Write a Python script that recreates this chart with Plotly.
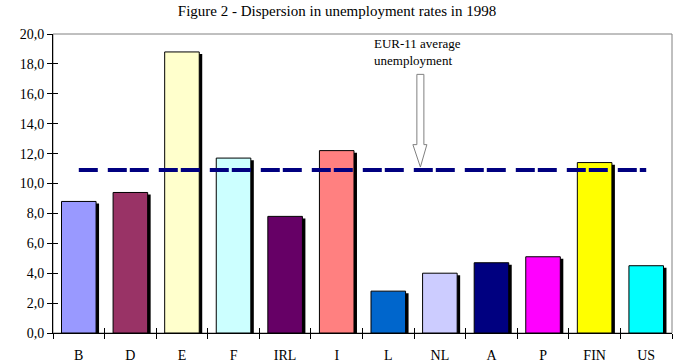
import plotly.graph_objects as go

countries = ["B", "D", "E", "F", "IRL", "I", "L", "NL", "A", "P", "FIN", "US"]
rates = [8.8, 9.4, 18.8, 11.7, 7.8, 12.2, 2.8, 4.0, 4.7, 5.1, 11.4, 4.5]
bar_colors = ["#9999FF", "#993366", "#FFFFCC", "#CCFFFF", "#660066", "#FF8080",
              "#0066CC", "#CCCCFF", "#000080", "#FF00FF", "#FFFF00", "#00FFFF"]
eur11_average = 10.9
y_ticks = [0, 2, 4, 6, 8, 10, 12, 14, 16, 18, 20]

BAR_W = 0.67
BAR_OFF = -0.335
SHADOW_DX = 0.058
SHADOW_DY = 0.14

fig = go.Figure()

# shadows
fig.add_trace(go.Bar(
    x=countries, y=[v - SHADOW_DY for v in rates],
    width=BAR_W, offset=BAR_OFF + SHADOW_DX,
    marker=dict(color="black", line=dict(width=0)),
    hoverinfo="skip", showlegend=False,
))
# bars
fig.add_trace(go.Bar(
    x=countries, y=rates, width=BAR_W, offset=BAR_OFF,
    marker=dict(color=bar_colors, line=dict(color="black", width=1)),
    showlegend=False,
))
# average line
fig.add_trace(go.Scatter(
    x=countries, y=[eur11_average] * len(countries), mode="lines",
    line=dict(color="#000080", width=4, dash="19px,10px,19px,3px"),
    showlegend=False,
))
# invisible carrier for the inner tick axes
fig.add_trace(go.Scatter(
    x=countries, y=rates, mode="markers", marker=dict(opacity=0),
    xaxis="x2", yaxis="y2", hoverinfo="skip", showlegend=False,
))

serif = "Liberation Serif, Times New Roman, serif"

fig.update_layout(
    width=693, height=363,
    margin=dict(l=53, r=21, t=34, b=30, autoexpand=False),
    paper_bgcolor="white", plot_bgcolor="white",
    barmode="overlay",
    separators=",.",
    font=dict(family=serif, size=14, color="black"),
    title=dict(text="Figure 2 - Dispersion in unemployment rates in 1998",
               x=337 / 693, xref="container", y=1 - 11 / 363, yref="container",
               xanchor="center", yanchor="middle",
               font=dict(family=serif, size=15, color="black")),
    xaxis=dict(
        type="category", range=[-0.5, 11.5], automargin=False,
        showline=True, linecolor="black", linewidth=1,
        ticks="outside", tickson="boundaries", ticklen=5, tickcolor="black",
        ticklabelstandoff=9,
        showgrid=False, tickfont=dict(family=serif, size=14),
    ),
    yaxis=dict(
        range=[0, 20], tickvals=y_ticks, tickformat=".1f", automargin=False,
        showline=True, linecolor="black", linewidth=1,
        ticks="outside", ticklen=5, tickcolor="black",
        showgrid=False, zeroline=False, tickfont=dict(family=serif, size=14),
    ),
    xaxis2=dict(
        type="category", range=[-0.5, 11.5], overlaying="x", side="bottom",
        automargin=False, showline=False, showticklabels=False,
        ticks="inside", tickson="boundaries", ticklen=5, tickcolor="black",
        showgrid=False, zeroline=False,
    ),
    yaxis2=dict(
        range=[0, 20], tickvals=y_ticks, overlaying="y", side="left",
        automargin=False, showline=False, showticklabels=False,
        ticks="inside", ticklen=5, tickcolor="black",
        showgrid=False, zeroline=False,
    ),
    shapes=[
        dict(type="rect", xref="paper", yref="paper", x0=0, y0=0, x1=1, y1=1,
             line=dict(color="#808080", width=1), layer="below"),
        dict(type="path", xref="x", yref="y",
             path="M 6.554 17.3 L 6.69 17.3 L 6.69 12.6 L 6.748 12.6 L 6.622 11.1 "
                  "L 6.477 12.6 L 6.554 12.6 Z",
             line=dict(color="#808080", width=1), fillcolor="white", layer="above"),
    ],
    annotations=[
        dict(text="EUR-11 average<br>unemployment", xref="x", yref="paper",
             x=5.68, y=1.0, xanchor="left", yanchor="top", showarrow=False,
             align="left", font=dict(family=serif, size=13, color="black")),
    ],
)

fig.write_html("out.html", config={"displayModeBar": False},
               post_script="document.body.style.margin='0';")
